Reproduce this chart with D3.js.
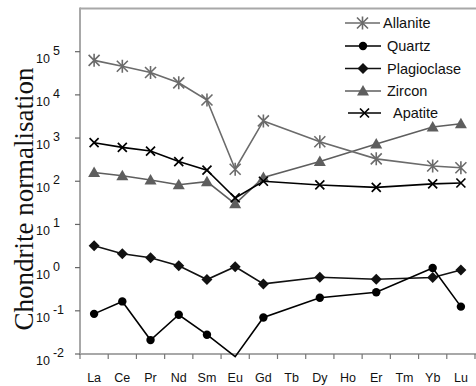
<!DOCTYPE html>
<html><head><meta charset="utf-8">
<script src="https://cdn.jsdelivr.net/npm/d3@7"></script>
<style>html,body{margin:0;padding:0;background:#fff;}svg{display:block;}</style>
</head><body>
<svg id="c" width="476" height="386"></svg>
<script>
const categories = ["La","Ce","Pr","Nd","Sm","Eu","Gd","Tb","Dy","Ho","Er","Tm","Yb","Lu"];
const allanite    = [63000, 46000, 33000, 19000, 7600, 190, 2500, null, 820, null, 330, null, 225, 205];
const quartz      = [0.085, 0.165, 0.021, 0.081, 0.028, 0.0087, 0.07, null, 0.2, null, 0.27, null, 0.98, 0.125];
const plagioclase = [3.2, 2.1, 1.7, 1.1, 0.53, 1.05, 0.42, null, 0.6, null, 0.54, null, 0.59, 0.88];
const zircon      = [160, 134, 107, 83, 98, 30, 122, null, 285, null, 730, null, 1800, 2150];
const apatite     = [780, 610, 500, 285, 180, 41, 100, null, 82, null, 72, null, 87, 91];
const seriesNames = ["Allanite","Quartz","Plagioclase","Zircon","Apatite"];
const yTickExps = [-2,-1,0,1,2,3,4,5];
const yTitle = "Chondrite normalisation";

const seriesData = [allanite, quartz, plagioclase, zircon, apatite];
const styles = [
  {color:"#6b6b6b", marker:"asterisk"},
  {color:"#000", marker:"circle"},
  {color:"#111", marker:"diamond"},
  {color:"#5e5e5e", marker:"triangle"},
  {color:"#000", marker:"cross"}
];

const svg = d3.select("#c");
const L = 80, R = 475, T = 8.5, B = 354;
const x = d3.scaleBand().domain(categories).range([L, R]);
const y = d3.scaleLog().domain([1e-2, 1e6]).range([B, T]);
const cx = c => x(c) + x.bandwidth()/2;

// frame
svg.append("line").attr("x1",L).attr("x2",476).attr("y1",T).attr("y2",T)
  .attr("stroke","#a8a8a8").attr("stroke-width",2);
svg.append("line").attr("x1",L).attr("x2",L).attr("y1",T-1).attr("y2",B)
  .attr("stroke","#a8a8a8").attr("stroke-width",2);

// x axis
const xAxis = d3.axisBottom(x).tickSize(0).tickPadding(0).tickFormat(d=>d);
const gx = svg.append("g").attr("transform",`translate(0,${B})`).call(xAxis);
gx.select(".domain").remove();
gx.selectAll("text").attr("y",28).attr("dy",0).attr("font-family","Liberation Sans, Arial, sans-serif")
  .attr("font-size",12.5).attr("fill","#111");
svg.append("line").attr("x1",L-1).attr("x2",476).attr("y1",B).attr("y2",B)
  .attr("stroke","#a8a8a8").attr("stroke-width",2);
const bounds = categories.map(c => x(c)).concat([R]);
svg.append("g").selectAll("line").data(bounds).join("line")
  .attr("x1",d=>d).attr("x2",d=>d).attr("y1",B).attr("y2",B+5)
  .attr("stroke","#777").attr("stroke-width",1.2);

// y axis ticks + labels
const yTicks = yTickExps.map(e => Math.pow(10,e));
svg.append("g").selectAll("line").data(yTicks).join("line")
  .attr("x1",L-5).attr("x2",L).attr("y1",d=>y(d)).attr("y2",d=>y(d))
  .attr("stroke","#666").attr("stroke-width",1.2);
const yl = svg.append("g").selectAll("text").data(yTickExps).join("text")
  .attr("x",36).attr("y",d=>y(Math.pow(10,d))+11)
  .attr("font-family","Liberation Sans, Arial, sans-serif").attr("font-size",12.5).attr("fill","#111");
yl.append("tspan").text("10");
yl.append("tspan").attr("dx",3).attr("dy",-8).attr("font-size",12.5).text(d=>String(d));

// y title
svg.append("text").attr("transform",`translate(33,${(65+333)/2}) rotate(-90)`)
  .attr("text-anchor","middle").attr("font-family","Liberation Serif, Times New Roman, serif")
  .attr("font-size",27).attr("fill","#111").text(yTitle);

// markers
function drawMarker(g, type, color, px, py) {
  if (type==="asterisk") {
    const s=5.5;
    g.append("path").attr("d",`M${px-s},${py-s}L${px+s},${py+s}M${px-s},${py+s}L${px+s},${py-s}M${px},${py-s-1}L${px},${py+s+1}`)
      .attr("stroke",color).attr("stroke-width",1.6).attr("fill","none");
  } else if (type==="circle") {
    g.append("circle").attr("cx",px).attr("cy",py).attr("r",4.2).attr("fill",color);
  } else if (type==="diamond") {
    const s=5.5;
    g.append("path").attr("d",`M${px},${py-s}L${px+s},${py}L${px},${py+s}L${px-s},${py}Z`).attr("fill",color);
  } else if (type==="triangle") {
    const s=6;
    g.append("path").attr("d",`M${px},${py-s}L${px+s},${py+s*0.75}L${px-s},${py+s*0.75}Z`).attr("fill",color);
  } else if (type==="cross") {
    const s=4.5;
    g.append("path").attr("d",`M${px-s},${py-s}L${px+s},${py+s}M${px-s},${py+s}L${px+s},${py-s}`)
      .attr("stroke",color).attr("stroke-width",1.7).attr("fill","none");
  }
}

const line = d3.line().x(d=>cx(d.c)).y(d=>y(d.v));
const order = [3,0,4,2,1];
order.forEach(i => {
  const pts = categories.map((c,j)=>({c, v:seriesData[i][j]})).filter(d=>d.v!=null);
  const g = svg.append("g");
  g.append("path").attr("d",line(pts)).attr("fill","none")
    .attr("stroke",styles[i].color).attr("stroke-width",1.6);
  pts.forEach(p => { if (p.v >= 1e-2) drawMarker(g, styles[i].marker, styles[i].color, cx(p.c), y(p.v)); });
});

// legend
const legY = [23, 46, 68.5, 91, 113];
const legLine = [[345,380],[345,381],[345,381],[345,381],[348,381]];
const legText = [383, 387, 387, 387, 393];
seriesNames.forEach((n,i) => {
  const g = svg.append("g");
  g.append("line").attr("x1",legLine[i][0]).attr("x2",legLine[i][1]).attr("y1",legY[i]).attr("y2",legY[i])
    .attr("stroke",styles[i].color).attr("stroke-width",1.6);
  drawMarker(g, styles[i].marker, styles[i].color, (legLine[i][0]+legLine[i][1])/2, legY[i]);
  g.append("text").attr("x",legText[i]).attr("y",legY[i]+5)
    .attr("font-family","Liberation Sans, Arial, sans-serif").attr("font-size",14.5).attr("fill","#111").text(n);
});
</script>
</body></html>
